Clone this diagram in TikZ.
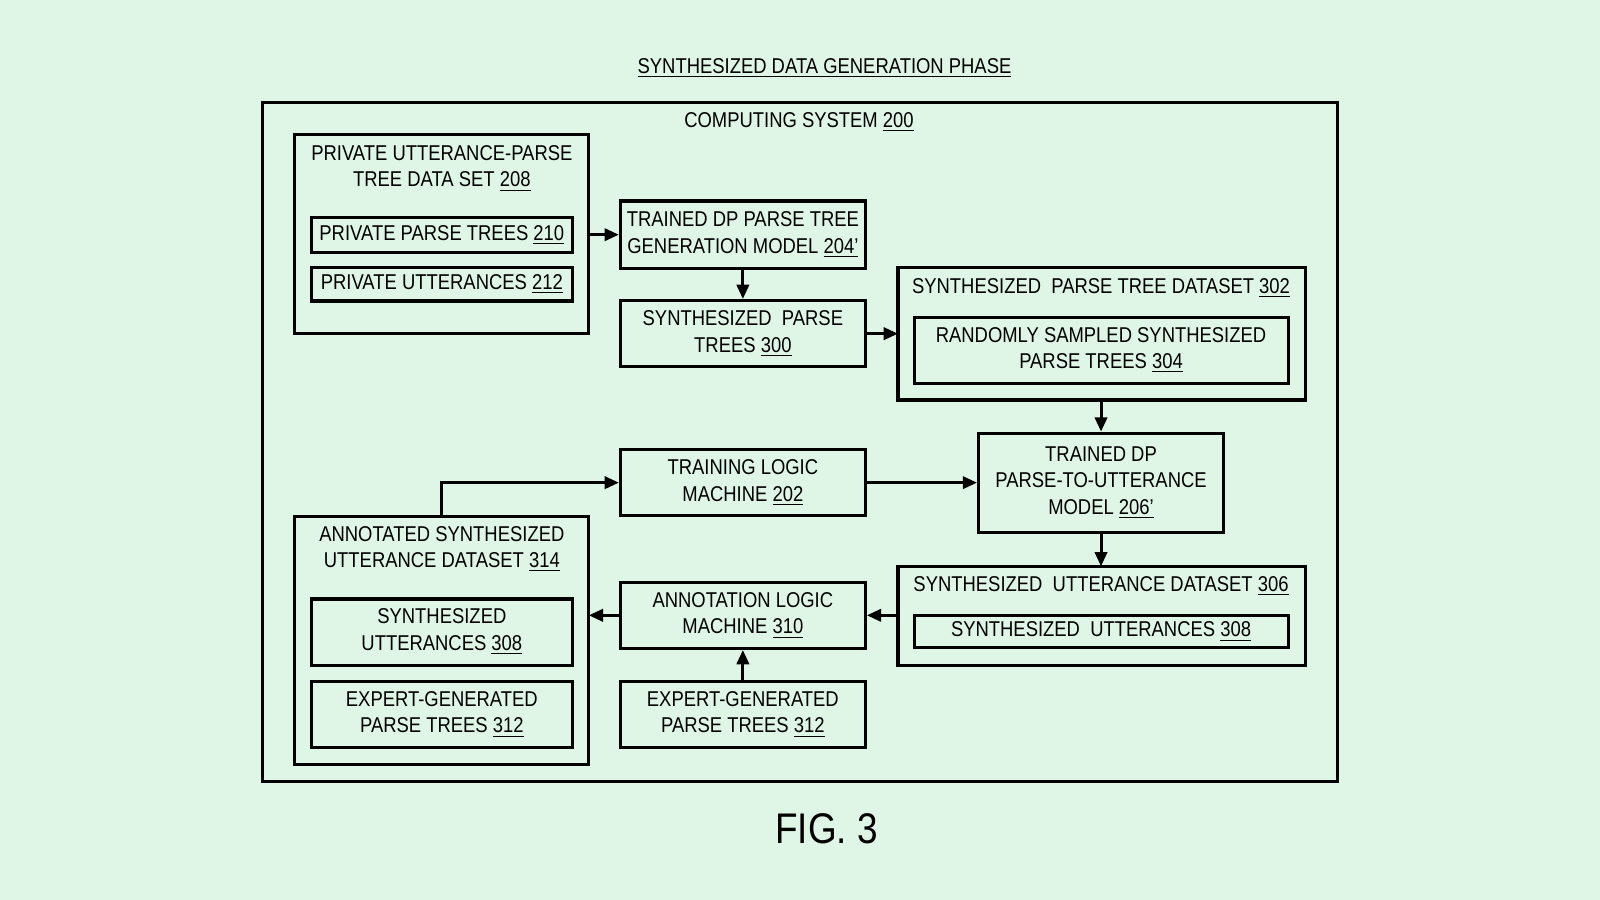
\documentclass[tikz,border=0pt]{standalone}
\usepackage{fontspec}
\setmainfont{Liberation Sans}[FakeStretch=0.86]
\usetikzlibrary{arrows.meta}
\definecolor{bg}{HTML}{DFF5E6}
\newcommand{\ul}[1]{\underline{#1}}
\begin{document}
\begin{tikzpicture}[x=0.5pt,y=-0.5pt,
  box/.style={draw,line width=1.5pt,fill=none},
  txt/.style={font=\fontsize{10.5}{13}\selectfont,align=center,inner sep=0},
  arr/.style={line width=1.5pt,-{Triangle[length=7pt,width=6pt]}}]
\fill[bg] (0,0) rectangle (1568,882);
\useasboundingbox (0,0) rectangle (1568,882);
\node[txt] (title) at (808,67) {\ul{SYNTHESIZED DATA GENERATION PHASE}};
\draw[box] (257,100) rectangle (1311,766);
\node[txt] (cs) at (783,120) {COMPUTING SYSTEM \ul{200}};
% private
\draw[box] (289,132) rectangle (577,327);
\coordinate (privR) at (577,230);
\node[txt] at (433,165) {PRIVATE UTTERANCE-PARSE\\TREE DATA SET \ul{208}};
\draw[box] (305,213) rectangle (561,247);
\node[txt] at (433,230) {PRIVATE PARSE TREES \ul{210}};
\draw[box] (305,262) rectangle (561,295);
\node[txt] at (433,278) {PRIVATE UTTERANCES \ul{212}};
% trained dp
\node[box,minimum width=120pt,minimum height=33pt,txt] (tdp) at (728,230) {TRAINED DP PARSE TREE\\GENERATION MODEL \ul{204'}};
\node[box,minimum width=120pt,minimum height=32.5pt,txt] (s300) at (728,327) {SYNTHESIZED\ \ PARSE\\TREES \ul{300}};
% 302
\draw[box] (880,262) rectangle (1279,392);
\coordinate (d302L) at (880,327);
\coordinate (d302B) at (1079,392);
\node[txt] at (1079,282) {SYNTHESIZED\ \ PARSE TREE DATASET \ul{302}};
\draw[box] (896,311) rectangle (1263,376);
\node[txt] at (1079,343) {RANDOMLY SAMPLED SYNTHESIZED\\PARSE TREES \ul{304}};
% 206
\node[box,minimum width=120pt,minimum height=48.5pt,txt] (m206) at (1079,473) {TRAINED DP\\PARSE-TO-UTTERANCE\\MODEL \ul{206'}};
\node[box,minimum width=120pt,minimum height=32.5pt,txt] (t202) at (728,473) {TRAINING LOGIC\\MACHINE \ul{202}};
% 314
\draw[box] (289,506) rectangle (577,749);
\coordinate (d314T) at (433,506);
\coordinate (d314R) at (577,603);
\node[txt] at (433,538) {ANNOTATED SYNTHESIZED\\UTTERANCE DATASET \ul{314}};
\draw[box] (305,587) rectangle (561,652);
\node[txt] at (433,619) {SYNTHESIZED\\UTTERANCES \ul{308}};
\draw[box] (305,668) rectangle (561,733);
\node[txt] at (433,700) {EXPERT-GENERATED\\PARSE TREES \ul{312}};
% 310, 312
\node[box,minimum width=120pt,minimum height=32.5pt,txt] (a310) at (728,603) {ANNOTATION LOGIC\\MACHINE \ul{310}};
\node[box,minimum width=120pt,minimum height=32.5pt,txt] (e312) at (728,700) {EXPERT-GENERATED\\PARSE TREES \ul{312}};
% 306
\draw[box] (880,555) rectangle (1279,652);
\coordinate (d306L) at (880,603);
\coordinate (d306T) at (1079,555);
\node[txt] at (1079,574) {SYNTHESIZED\ \ UTTERANCE DATASET \ul{306}};
\draw[box] (896,603) rectangle (1263,635);
\node[txt] at (1079,619) {SYNTHESIZED\ \ UTTERANCES \ul{308}};
\node[font=\fontsize{21}{24}\selectfont,inner sep=0] (fig) at (810,812) {FIG. 3};
% arrows
\draw[arr] (privR) -- (tdp.west|-privR);
\draw[arr] (tdp) -- (s300);
\draw[arr] (s300.east) -- (d302L);
\draw[arr] (d302B) -- (m206);
\draw[arr] (t202) -- (m206);
\draw[arr] (d314T) |- (t202.west);
\draw[arr] (m206) -- (d306T);
\draw[arr] (d306L) -- (a310.east);
\draw[arr] (a310.west) -- (d314R);
\draw[arr] (e312) -- (a310);
\end{tikzpicture}
\end{document}
